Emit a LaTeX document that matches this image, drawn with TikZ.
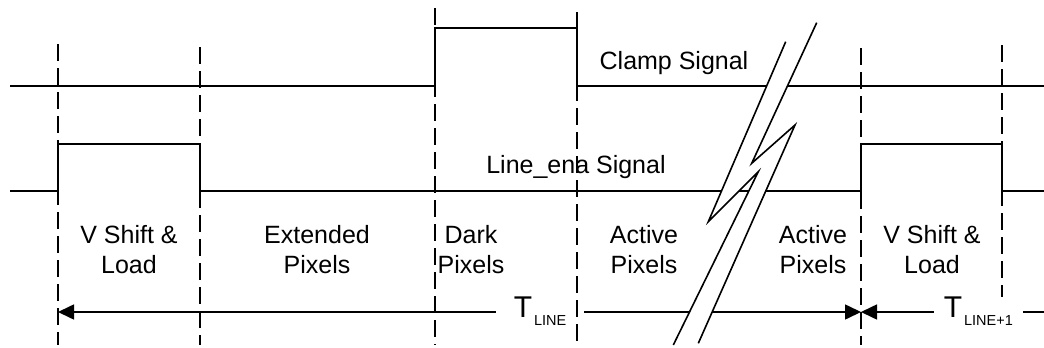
\documentclass[tikz,border=0pt]{standalone}
\usepackage{fontspec}
\setmainfont{Liberation Sans}
\usetikzlibrary{arrows.meta}
\newcommand{\tsym}[1]{{\fontsize{30}{30}\selectfont T}\kern2pt\raisebox{-8pt}{\fontsize{14.5}{14.5}\selectfont #1}}
\begin{document}
\begin{tikzpicture}[x=1pt,y=-1pt, line width=1.6pt, line join=miter,
  >={Triangle[length=16pt,width=15pt]},
  vdash/.style={dash pattern=on 17pt off 7pt},
  lbl/.style={font=\fontsize{25}{30}\selectfont, align=center, inner sep=0pt, anchor=north},
  sigtext/.style={font=\fontsize{25}{30}\selectfont, inner sep=0pt, anchor=base},
  tlbl/.style={fill=white, inner ysep=2pt, anchor=base west}
]
\useasboundingbox (0,0) rectangle (1044,348);

% signals
\draw (10,86) -- (435,86) -- (435,28) -- (577,28) -- (577,86) -- (1044,86);
\draw (10,191) -- (58,191) -- (58,144) -- (200,144) -- (200,191) -- (861,191) -- (861,144) -- (1002,144) -- (1002,191) -- (1044,191);

% time arrows
\coordinate (s0) at (58,312);
\coordinate (s1) at (861,312);
\coordinate (s2) at (1044,312);
\draw[<->] (s0) -- (s1);
\draw[<-] (s1) -- (s2);
\node[tlbl, inner xsep=18pt] (tline) at (495,317) {\tsym{LINE}};
\node[tlbl, inner xsep=10pt] (tline1) at (933,317) {\tsym{LINE+1}};

% break symbol
\coordinate (L1) at (785.7,41.7);
\coordinate (L2) at (708.3,221.7);
\coordinate (L3) at (758.3,171.7);
\coordinate (L4) at (673.3,345);
\coordinate (R1) at (816.7,22.7);
\coordinate (R2) at (751.7,163.3);
\coordinate (R3) at (795,125);
\coordinate (R4) at (698.3,343.3);
\fill[white] (L1) -- (L2) -- (L3) -- (L4) -- (R4) -- (R3) -- (R2) -- (R1) -- cycle;
\draw (L1) -- (L2) -- (L3) -- (L4);
\draw (R1) -- (R2) -- (R3) -- (R4);

% dashed time markers
\draw[vdash] (58,44) -- (58,345);
\draw[vdash] (200,47) -- (200,345);
\draw[vdash] (435,8) -- (435,345);
\draw[vdash] (577,12) -- (577,345);
\draw[vdash] (861,48) -- (861,345);
\draw[vdash] (1002,45) -- (1002,297);

% texts
\node[sigtext] (clamp) at (674,69) {Clamp Signal};
\node[sigtext] (lena) at (576,173) {Line\_ena Signal};
\node[lbl] (vs1) at (129,225) {V Shift \&\\Load};
\node[lbl] (ext) at (317,225) {Extended\\Pixels};
\node[lbl] (dark) at (471,225) {Dark\\Pixels};
\node[lbl] (act1) at (644,225) {Active\\Pixels};
\node[lbl] (act2) at (813,225) {Active\\Pixels};
\node[lbl] (vs2) at (932,225) {V Shift \&\\Load};
\end{tikzpicture}
\end{document}
